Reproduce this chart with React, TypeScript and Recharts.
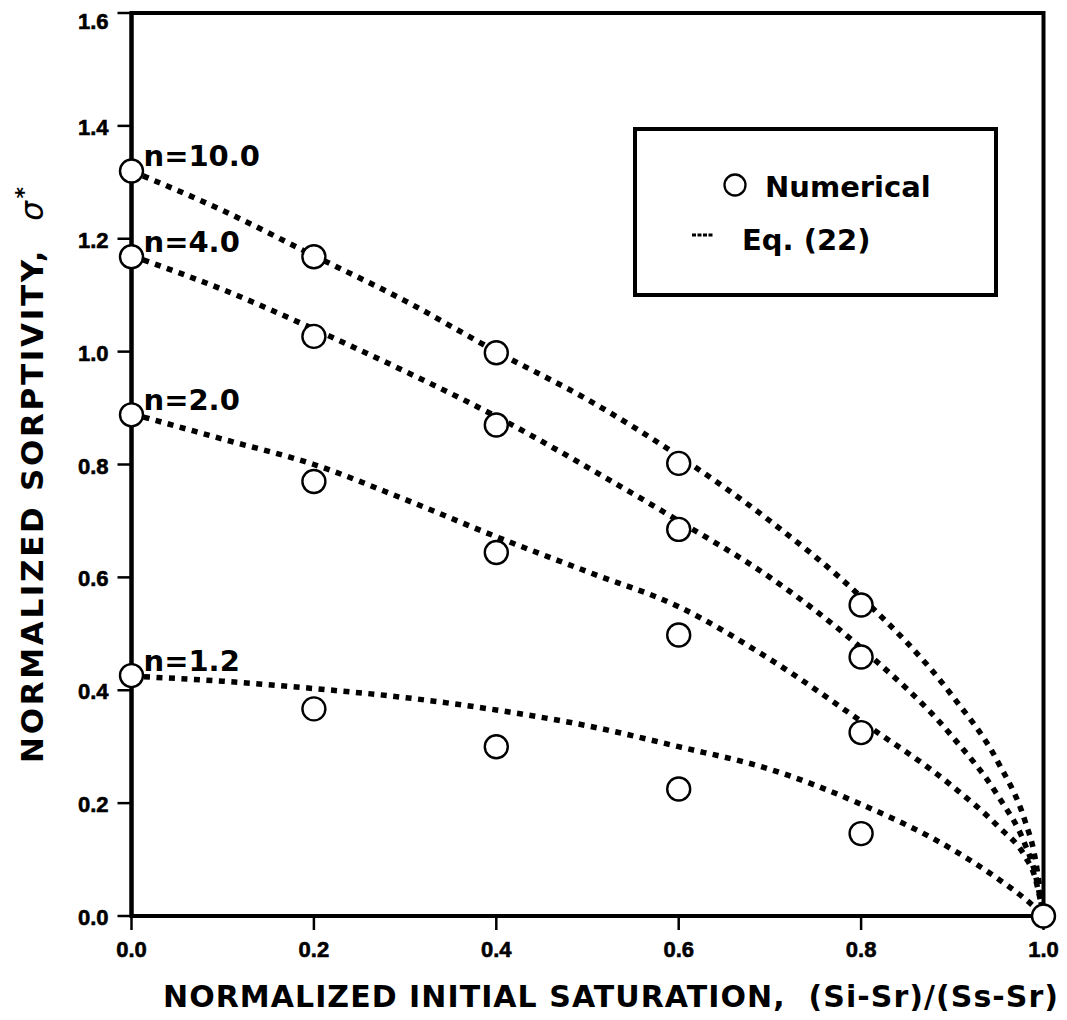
import React from 'react';
import { ComposedChart, Line, Scatter, XAxis, YAxis, ReferenceArea, ReferenceDot, Legend } from 'recharts';

// ---- tick values ----
const xTicks = [0, 0.2, 0.4, 0.6, 0.8, 1.0];
const yTicks = [0, 0.2, 0.4, 0.6, 0.8, 1.0, 1.2, 1.4, 1.6];

// ---- numerical results (circles) ----
const numX = [0, 0.2, 0.4, 0.6, 0.8];
const numN10 = [1.32, 1.168, 0.998, 0.802, 0.551];
const numN4 = [1.168, 1.027, 0.87, 0.685, 0.459];
const numN2 = [0.888, 0.77, 0.644, 0.498, 0.325];
const numN12 = [0.426, 0.367, 0.3, 0.225, 0.146];
const numEndX = [1.0];
const numEndY = [0.0];

// ---- Eq. (22) curves (dotted) ----
const curveX = [0, 0.1, 0.2, 0.3, 0.4, 0.5, 0.6, 0.7, 0.8, 0.9, 0.95, 0.98, 0.99, 1.0];
const eqN10 = [1.32, 1.25, 1.17, 1.09, 1.0, 0.915, 0.815, 0.7, 0.565, 0.39, 0.273, 0.167, 0.11, 0];
const eqN4 = [1.17, 1.11, 1.04, 0.965, 0.885, 0.795, 0.7, 0.6, 0.475, 0.318, 0.213, 0.126, 0.08, 0];
const eqN2 = [0.89, 0.845, 0.8, 0.738, 0.672, 0.61, 0.548, 0.455, 0.345, 0.23, 0.159, 0.105, 0.072, 0];
const eqN12 = [0.425, 0.416, 0.403, 0.387, 0.365, 0.337, 0.3, 0.26, 0.198, 0.118, 0.066, 0.03, 0.016, 0];

// ---- curve labels ----
const labelTexts = ['n=10.0', 'n=4.0', 'n=2.0', 'n=1.2'];
const labelYs = [numN10[0], numN4[0], numN2[0], numN12[0]];

const toPts = (xs: number[], ys: number[]) => xs.map((x, i) => ({ x, y: ys[i] }));

const numericalData = [
  ...toPts(numX, numN10),
  ...toPts(numX, numN4),
  ...toPts(numX, numN2),
  ...toPts(numX, numN12),
  ...toPts(numEndX, numEndY),
];
const curves = [eqN10, eqN4, eqN2, eqN12].map((ys) => toPts(curveX, ys));

const TITLE_FONT = "'DejaVu Sans', 'Liberation Sans', Arial, sans-serif";
const TICK_FONT = "'Liberation Sans', Arial, sans-serif";

const CircleShape = (p: any) => (
  <circle cx={p.cx} cy={p.cy} r={11.5} fill="#fff" stroke="#000" strokeWidth={2.4} />
);

const XTick = (p: any) => (
  <text x={p.x} y={p.y} dy={15} textAnchor="middle" fontFamily={TICK_FONT} fontWeight="bold" fontSize={22}
    fill="#000" stroke="#000" strokeWidth={0.6}>
    {Number(p.payload.value).toFixed(1)}
  </text>
);

const YTick = (p: any) => {
  const v = Number(p.payload.value);
  const isTop = p.index === yTicks.length - 1;
  return (
    <text x={p.x} y={p.y} dy={isTop ? 12 : 9} textAnchor="end" fontFamily={TICK_FONT} fontWeight="bold" fontSize={22}
      fill="#000" stroke="#000" strokeWidth={0.6}>
      {v.toFixed(1)}
    </text>
  );
};

const LegendBox = () => (
  <div style={{ width: 365, height: 170, border: '4px solid #000', boxSizing: 'border-box', background: '#fff' }}>
    <svg width={357} height={162} style={{ display: 'block' }}>
      <circle cx={98} cy={54} r={10.5} fill="#fff" stroke="#000" strokeWidth={2.3} />
      <text x={128} y={66} fontFamily={TITLE_FONT} fontWeight="bold" fontSize={29} fill="#000">Numerical</text>
      <line x1={55} y1={104} x2={76} y2={104} stroke="#000" strokeWidth={3} strokeDasharray="4 1.5" />
      <text x={105} y={119} fontFamily={TITLE_FONT} fontWeight="bold" fontSize={29} fill="#000">Eq. (22)</text>
    </svg>
  </div>
);

const XTitle = (props: any) => {
  const vb = props.viewBox || {};
  return (
    <text x={155} y={(vb.y || 908) + 91} fontFamily={TITLE_FONT} fontWeight="bold" fontSize={30}
      fill="#000" textLength={895} lengthAdjust="spacing" style={{ whiteSpace: 'pre' }}>
      NORMALIZED INITIAL SATURATION,  (Si-Sr)/(Ss-Sr)
    </text>
  );
};

const YTitle = () => (
  <text x={0} y={0} transform="translate(35,467) rotate(-90)" textAnchor="middle" fontFamily={TITLE_FONT}
    fontWeight="bold" fontSize={31} fill="#000" textLength={576} lengthAdjust="spacing" style={{ whiteSpace: 'pre' }}>
    NORMALIZED SORPTIVITY,  <tspan fontStyle="italic" fontWeight="normal">σ</tspan>
    <tspan dy={-12} fontSize={22} fontWeight="bold">*</tspan>
  </text>
);

const makeLabelShape = (txt: string) => (p: any) => (
  <text x={p.cx + 12} y={p.cy - 5} fontFamily={TITLE_FONT} fontWeight="bold" fontSize={29} fill="#000">{txt}</text>
);

export default function App() {
  return (
    <ComposedChart width={1059} height={1012} margin={{ top: 5, right: 23.5, bottom: 0, left: 0 }}>
      <XAxis
        type="number"
        dataKey="x"
        domain={[0, 1]}
        ticks={xTicks}
        allowDuplicatedCategory={false}
        axisLine={{ stroke: '#000', strokeWidth: 4 }}
        tickLine={{ stroke: '#000', strokeWidth: 2.5 }}
        tickSize={14}
        tickMargin={12}
        height={104}
        tick={XTick}
        label={{ content: XTitle }}
      />
      <YAxis
        type="number"
        dataKey="y"
        domain={[0, 1.6]}
        ticks={yTicks}
        axisLine={{ stroke: '#000', strokeWidth: 4 }}
        tickLine={{ stroke: '#000', strokeWidth: 2.5 }}
        tickSize={14}
        tickMargin={9}
        width={123.5}
        tick={YTick}
        label={{ content: YTitle }}
      />
      <ReferenceArea x1={0} x2={1} y1={0} y2={1.6} fill="none" stroke="#000" strokeWidth={4} fillOpacity={0} />
      {curves.map((d, i) => (
        <Line
          key={'c' + i}
          data={d}
          dataKey="y"
          type="monotone"
          stroke="#000"
          strokeWidth={5.5}
          strokeDasharray="6 6.5"
          dot={false}
          activeDot={false}
          isAnimationActive={false}
          legendType="none"
        />
      ))}
      <Scatter data={numericalData} dataKey="y" shape={CircleShape} isAnimationActive={false} legendType="none" />
      {labelTexts.map((t, i) => (
        <ReferenceDot key={'l' + i} x={0} y={labelYs[i]} r={1} shape={makeLabelShape(t)} />
      ))}
      <Legend
        layout="horizontal"
        verticalAlign="middle"
        align="center"
        content={LegendBox}
        wrapperStyle={{ position: 'absolute', left: 625, top: 119, width: 365, height: 170 }}
      />
    </ComposedChart>
  );
}
